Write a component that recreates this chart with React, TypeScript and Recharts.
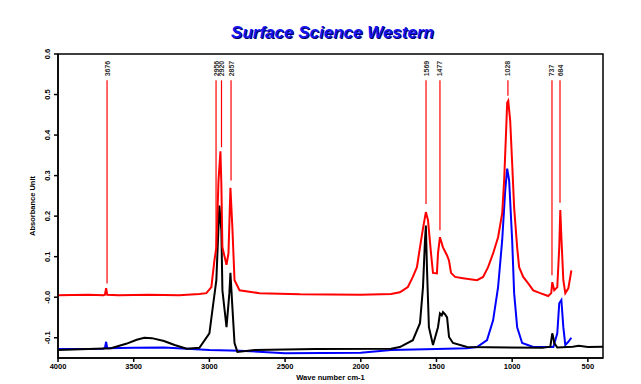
import React from 'react'
import {
  LineChart,
  Line,
  XAxis,
  YAxis,
  ReferenceLine,
  ReferenceArea,
} from 'recharts'

// wavenumber (cm-1) / absorbance pairs
const redWn = [
  4000, 3800, 3700, 3690, 3682, 3675, 3600, 3400, 3200, 3066, 3020, 2987, 2967, 2954, 2940,
  2927, 2921, 2914, 2887, 2874, 2861, 2848, 2834, 2801, 2669, 2400, 2000, 1800, 1742, 1722,
  1689, 1656, 1629, 1609, 1589, 1570, 1556, 1536, 1523, 1497, 1490, 1477, 1457, 1430, 1417,
  1404, 1377, 1325, 1232, 1192, 1159, 1126, 1093, 1066, 1053, 1040, 1033, 1026, 1013, 1000,
  987, 967, 954, 927, 894, 861, 815, 762, 742, 735, 722, 702, 689, 682, 675, 662, 649, 629,
  616, 609,
]
const redAbs = [
  0.005, 0.006, 0.005, 0.006, 0.022, 0.006, 0.005, 0.006, 0.005, 0.008, 0.01, 0.025, 0.09,
  0.123, 0.287, 0.36, 0.28, 0.123, 0.08, 0.108, 0.27, 0.17, 0.042, 0.017, 0.01, 0.007, 0.006,
  0.008, 0.012, 0.017, 0.025, 0.05, 0.074, 0.123, 0.17, 0.21, 0.19, 0.108, 0.06, 0.059, 0.108,
  0.148, 0.123, 0.103, 0.09, 0.06, 0.05, 0.047, 0.042, 0.05, 0.074, 0.108, 0.148, 0.207, 0.288,
  0.41, 0.48, 0.485, 0.435, 0.33, 0.221, 0.123, 0.074, 0.05, 0.034, 0.017, 0.01, 0.003, 0.01,
  0.037, 0.017, 0.025, 0.123, 0.215, 0.148, 0.042, 0.01, 0.022, 0.05, 0.066,
]

const blackWn = [
  4000, 3800, 3650, 3550, 3480, 3430, 3380, 3300, 3230, 3150, 3066, 3000, 2980, 2954, 2947,
  2934, 2921, 2914, 2887, 2868, 2861, 2848, 2834, 2815, 2700, 2300, 1800, 1742, 1656, 1609,
  1589, 1576, 1570, 1563, 1550, 1523, 1490, 1477, 1465, 1457, 1444, 1430, 1417, 1391, 1298,
  800, 748, 735, 728, 722, 702, 600, 560, 500, 400,
]
const blackAbs = [
  -0.13, -0.128, -0.126, -0.115, -0.105, -0.1, -0.101, -0.108, -0.118, -0.127, -0.125, -0.089,
  -0.032, 0.042, 0.108, 0.226, 0.165, 0.017, -0.074, 0.01, 0.06, -0.025, -0.113, -0.135, -0.13,
  -0.128, -0.127, -0.123, -0.106, -0.064, 0.025, 0.14, 0.177, 0.074, -0.074, -0.118, -0.074,
  -0.04, -0.045, -0.037, -0.042, -0.05, -0.098, -0.113, -0.123, -0.125, -0.122, -0.089, -0.1,
  -0.113, -0.124, -0.122, -0.12, -0.123, -0.122,
]

const blueWn = [
  4000, 3700, 3690, 3682, 3675, 3500, 3300, 3000, 2800, 2500, 2000, 1800, 1500, 1300, 1232,
  1166, 1126, 1093, 1066, 1046, 1033, 1020, 1000, 987, 967, 934, 861, 728, 702, 689, 675, 662,
  649, 629, 609,
]
const blueAbs = [
  -0.128, -0.127, -0.125, -0.11, -0.126, -0.125, -0.124, -0.13, -0.132, -0.138, -0.137, -0.13,
  -0.128, -0.126, -0.123, -0.106, -0.057, 0.025, 0.14, 0.263, 0.317, 0.288, 0.14, 0.01, -0.074,
  -0.113, -0.123, -0.123, -0.089, -0.015, -0.007, -0.074, -0.118, -0.11, -0.1,
]

// peak markers: position, where the marker line stops, and printed label
const peakWn = [3676, 2956, 2920, 2857, 1569, 1477, 1028, 737, 684]
const peakLineEnd = [0.034, 0.115, 0.37, 0.288, 0.23, 0.165, 0.497, 0.054, 0.233]
const peakLabels = ['3676', '2956', '2920', '2857', '1569', '1477', '1028', '737', '684']

const xTicks = [4000, 3500, 3000, 2500, 2000, 1500, 1000, 500]
const yTicks = [-0.1, 0, 0.1, 0.2, 0.3, 0.4, 0.5, 0.6]

const toPoints = (wn: number[], abs: number[]) => wn.map((w, i) => ({ wn: w, a: abs[i] }))
const redData = toPoints(redWn, redAbs)
const blackData = toPoints(blackWn, blackAbs)
const blueData = toPoints(blueWn, blueAbs)

const FONT = '"Liberation Sans", Arial, sans-serif'

const YTick = ({ x, y, payload }: any) => (
  <text
    transform={`translate(${x - 2},${y}) rotate(-90)`}
    textAnchor="middle"
    fontSize={7.5}
    fontWeight="bold"
    fontFamily={FONT}
    fill="#000"
  >
    {payload.value === 0 ? '-0.0' : payload.value.toFixed(1)}
  </text>
)

const XTick = ({ x, y, payload }: any) => (
  <text x={x} y={y + 5} textAnchor="middle" fontSize={7.5} fontWeight="bold" fontFamily={FONT} fill="#000">
    {payload.value}
  </text>
)

const peakLabel = (text: string) => (props: any) => {
  const vb = props.viewBox || {}
  return (
    <text
      transform={`translate(${vb.x + 2.5},${vb.y - 4}) rotate(-90)`}
      textAnchor="start"
      fontSize={7}
      fontWeight="bold"
      fontFamily={FONT}
      fill="#333"
    >
      {text}
    </text>
  )
}

export default function App() {
  return (
    <div style={{ position: 'absolute', left: 0, top: 0, width: 641, height: 384, background: '#fff' }}>
      <div
        style={{
          position: 'absolute',
          left: 0,
          width: 665,
          top: 23,
          textAlign: 'center',
          fontFamily: FONT,
          fontWeight: 'bold',
          fontStyle: 'italic',
          fontSize: 17,
          color: '#1414ee',
          textShadow: '1px 1px 0 #000060',
        }}
      >
        Surface Science Western
      </div>
      <LineChart width={641} height={384} margin={{ top: 54, right: 38, bottom: 6, left: 28 }}>
        <XAxis
          type="number"
          dataKey="wn"
          domain={[400, 4000]}
          reversed
          ticks={xTicks}
          allowDataOverflow
          tickSize={4}
          tick={<XTick />}
          height={20}
          stroke="#000"
          strokeWidth={1.5}
          label={(p: any) => (
            <text
              x={p.viewBox.x + p.viewBox.width / 2}
              y={p.viewBox.y + 22}
              textAnchor="middle"
              fontSize={7.5}
              fontWeight="bold"
              fontFamily={FONT}
            >
              Wave number cm-1
            </text>
          )}
        />
        <YAxis
          type="number"
          domain={[-0.15, 0.6]}
          ticks={yTicks}
          allowDataOverflow
          tickSize={4}
          width={30}
          tick={<YTick />}
          stroke="#000"
          strokeWidth={1.5}
          label={(p: any) => (
            <text
              transform={`translate(${p.viewBox.x + 7},${p.viewBox.y + p.viewBox.height / 2}) rotate(-90)`}
              textAnchor="middle"
              fontSize={7.5}
              fontWeight="bold"
              fontFamily={FONT}
            >
              Absorbance Unit
            </text>
          )}
        />
        <ReferenceArea x1={400} x2={4000} y1={-0.15} y2={0.6} fill="none" stroke="#000" strokeWidth={1.5} />
        <Line data={blueData} dataKey="a" type="linear" stroke="#0000ff" strokeWidth={2} dot={false} isAnimationActive={false} />
        <Line data={blackData} dataKey="a" type="linear" stroke="#000000" strokeWidth={2} dot={false} isAnimationActive={false} />
        <Line data={redData} dataKey="a" type="linear" stroke="#ff0000" strokeWidth={2} dot={false} isAnimationActive={false} />
        {peakWn.map((w, i) => (
          <ReferenceLine
            key={w}
            segment={[
              { x: w, y: 0.535 },
              { x: w, y: peakLineEnd[i] },
            ]}
            stroke="#ff0000"
            strokeWidth={1.2}
            label={peakLabel(peakLabels[i])}
          />
        ))}
      </LineChart>
    </div>
  )
}
